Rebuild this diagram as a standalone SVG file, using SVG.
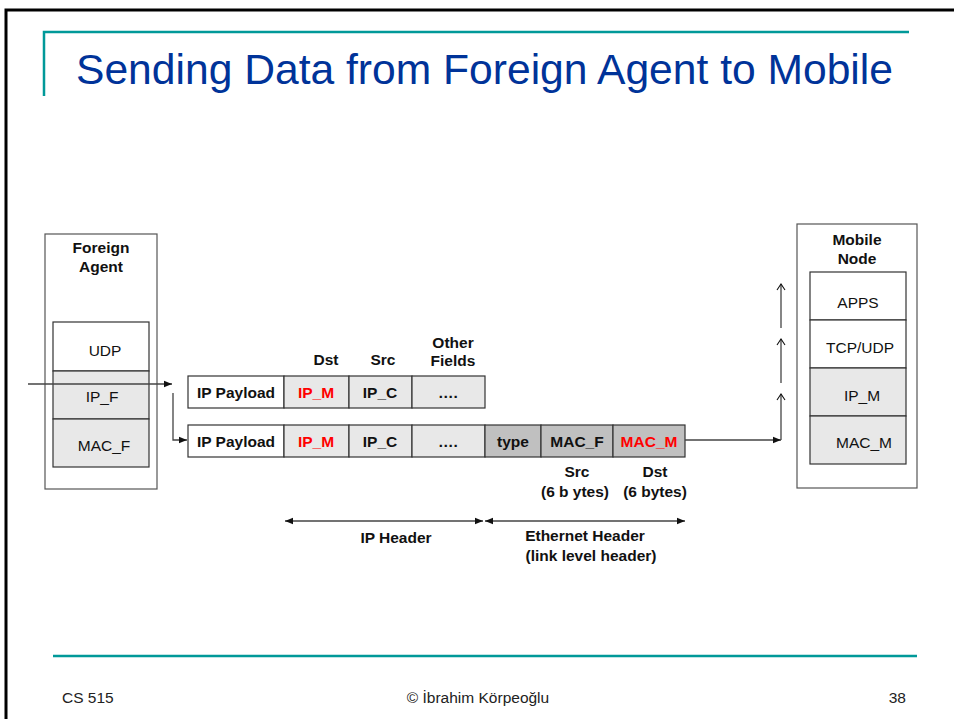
<svg xmlns="http://www.w3.org/2000/svg" width="954" height="719" viewBox="0 0 954 719">
<defs>
<style>
.frame{fill:none;stroke:#000;stroke-width:3}
.teal{stroke:#009999;stroke-width:2.5;fill:none}
.title{font-family:"Liberation Sans",Arial,sans-serif;font-size:42px;fill:#003399}
.foot{font-family:"Liberation Sans",Arial,sans-serif;font-size:15.5px;fill:#222}
.outer{fill:#fff;stroke:#555;stroke-width:1.2}
.cell{stroke:#333;stroke-width:1.2}
.w{fill:#fff}
.l{fill:#e8e8e8}
.d{fill:#c0c0c0}
.t{font-family:"Liberation Sans",Arial,sans-serif;font-size:15.5px;fill:#111;text-anchor:middle}
.b{font-family:"Liberation Sans",Arial,sans-serif;font-size:15.5px;font-weight:bold;fill:#111;text-anchor:middle}
.red{fill:#ff0000}
.con{stroke:#444;stroke-width:1.3;fill:none}
</style>
<marker id="ah" viewBox="0 0 10 10" refX="10" refY="5" markerWidth="8" markerHeight="8" markerUnits="userSpaceOnUse" orient="auto-start-reverse">
<path d="M0,1 L10,5 L0,9 Z" fill="#111"/>
</marker>
<marker id="oh" viewBox="0 0 12 10" refX="6" refY="1" markerWidth="12" markerHeight="10" markerUnits="userSpaceOnUse" orient="0">
<path d="M2,7 L6,1 L10,7" fill="none" stroke="#111" stroke-width="1.1"/>
</marker>
</defs>
<rect width="954" height="719" fill="#fff"/>
<path class="frame" d="M6,730 V10 H960"/>
<path class="teal" d="M44,96 V32 H909"/>
<line class="teal" x1="53" y1="656" x2="917" y2="656"/>
<text class="title" x="76" y="84" textLength="817" lengthAdjust="spacingAndGlyphs">Sending Data from Foreign Agent to Mobile</text>
<text class="foot" x="62" y="703">CS 515</text>
<text class="foot" x="478" y="703" text-anchor="middle">© İbrahim Körpeoğlu</text>
<text class="foot" x="906" y="703" text-anchor="end">38</text>

<g id="foreign-agent">
<rect class="outer" x="45" y="234" width="112" height="255"/>
<text class="b" x="101" y="253">Foreign</text>
<text class="b" x="101" y="272">Agent</text>
<rect class="cell w" x="53" y="322" width="96" height="49"/>
<rect class="cell l" x="53" y="371" width="96" height="48"/>
<rect class="cell l" x="53" y="419" width="96" height="48"/>
<text class="t" x="105" y="356">UDP</text>
<text class="t" x="102" y="402">IP_F</text>
<text class="t" x="104" y="451">MAC_F</text>
</g>

<g id="ip-packet">
<rect class="cell w" x="188" y="376" width="96" height="32"/>
<rect class="cell l" x="284" y="376" width="65" height="32"/>
<rect class="cell l" x="349" y="376" width="63" height="32"/>
<rect class="cell l" x="412" y="376" width="73" height="32"/>
<text class="b" x="236" y="398">IP Payload</text>
<text class="b red" x="316" y="398">IP_M</text>
<text class="b" x="380" y="398">IP_C</text>
<text class="b" x="448" y="398">….</text>
<text class="b" x="326" y="365">Dst</text>
<text class="b" x="383" y="365">Src</text>
<text class="b" x="453" y="348">Other</text>
<text class="b" x="453" y="366">Fields</text>
</g>

<g id="ethernet-frame">
<rect class="cell w" x="188" y="425" width="96" height="32"/>
<rect class="cell l" x="284" y="425" width="65" height="32"/>
<rect class="cell l" x="349" y="425" width="63" height="32"/>
<rect class="cell l" x="412" y="425" width="73" height="32"/>
<rect class="cell d" x="485" y="425" width="56" height="32"/>
<rect class="cell d" x="541" y="425" width="72" height="32"/>
<rect class="cell d" x="613" y="425" width="72" height="32"/>
<text class="b" x="236" y="447">IP Payload</text>
<text class="b red" x="316" y="447">IP_M</text>
<text class="b" x="380" y="447">IP_C</text>
<text class="b" x="448" y="447">….</text>
<text class="b" x="513" y="447">type</text>
<text class="b" x="577" y="447">MAC_F</text>
<text class="b red" x="649" y="447">MAC_M</text>
<text class="b" x="577" y="477">Src</text>
<text class="b" x="575" y="497">(6 b ytes)</text>
<text class="b" x="655" y="477">Dst</text>
<text class="b" x="655" y="497">(6 bytes)</text>
</g>

<g id="mobile-node">
<rect class="outer" x="797" y="224" width="120" height="264"/>
<text class="b" x="857" y="245">Mobile</text>
<text class="b" x="857" y="264">Node</text>
<rect class="cell w" x="810" y="272" width="96" height="48"/>
<rect class="cell w" x="810" y="320" width="96" height="48"/>
<rect class="cell l" x="810" y="368" width="96" height="48"/>
<rect class="cell l" x="810" y="416" width="96" height="48"/>
<text class="t" x="858" y="308">APPS</text>
<text class="t" x="860" y="353">TCP/UDP</text>
<text class="t" x="862" y="401">IP_M</text>
<text class="t" x="864" y="448">MAC_M</text>
</g>

<g id="header-labels">
<text class="b" x="396" y="543">IP Header</text>
<text class="b" x="585" y="541">Ethernet Header</text>
<text class="b" x="591" y="561">(link level header)</text>
</g>

<g id="connectors">
<line class="con" x1="28" y1="384" x2="172" y2="384" marker-end="url(#ah)"/>
<polyline class="con" points="173,393 173,440 187,440" marker-end="url(#ah)"/>
<polyline class="con" points="685,440 781,440" marker-end="url(#ah)"/>
<line class="con" x1="781" y1="440" x2="781" y2="394" marker-end="url(#oh)"/>
<line class="con" x1="781" y1="383" x2="781" y2="339" marker-end="url(#oh)"/>
<line class="con" x1="781" y1="328" x2="781" y2="284" marker-end="url(#oh)"/>
<line class="con" x1="285" y1="521" x2="483" y2="521" marker-start="url(#ah)" marker-end="url(#ah)"/>
<line class="con" x1="485" y1="521" x2="685" y2="521" marker-start="url(#ah)" marker-end="url(#ah)"/>
</g>
</svg>
